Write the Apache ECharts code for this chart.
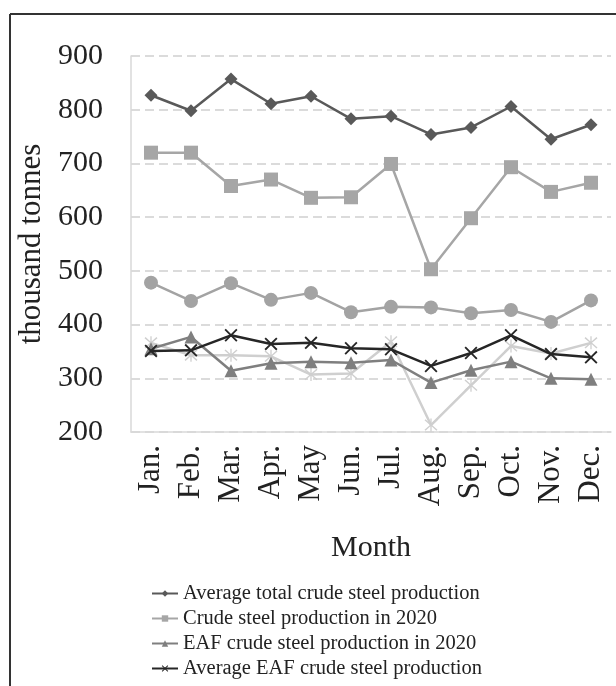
<!DOCTYPE html>
<html><head><meta charset="utf-8">
<script src="https://cdn.jsdelivr.net/npm/echarts@6/dist/echarts.min.js"></script>
<style>html,body{margin:0;padding:0;background:#fff}#c{width:616px;height:686px}</style>
</head><body><div id="c"></div>
<script>
const months = ['Jan.','Feb.','Mar.','Apr.','May','Jun.','Jul.','Aug.','Sep.','Oct.','Nov.','Dec.'];
const avgTotal = [827, 798, 857, 811, 825, 783, 788, 754, 767, 806, 745, 772];
const crude2020 = [720, 720, 658, 670, 636, 637, 699, 503, 598, 693, 647, 664];
const circleSeries = [478, 444, 477, 446, 459, 423, 433, 432, 421, 427, 405, 445];
const eaf2020 = [355, 377, 314, 328, 331, 329, 334, 292, 315, 331, 300, 298];
const avgEaf = [351, 352, 380, 364, 366, 356, 354, 323, 347, 380, 345, 339];
const starSeries = [366, 343, 343, 341, 307, 309, 368, 213, 287, 360, 346, 366];
const yTicks = {min: 200, max: 900, interval: 100};

const FONT = 'Liberation Serif';
const X_PATH = 'path://M0,1L1,0L5,4L9,0L10,1L6,5L10,9L9,10L5,6L1,10L0,9L4,5Z';
const STAR_PATH = 'path://M0,1.4L0.8,0.6L5,4.4L9.2,0.6L10,1.4L5.8,5L10,8.6L9.2,9.4L5,5.6L0.8,9.4L0,8.6L4.2,5ZM4.5,0L5.5,0L5.5,10L4.5,10Z';

function mk(name, data, color, symbol, size, z) {
  return {
    name, type: 'line', data, symbol, symbolSize: size, z: z,
    lineStyle: {color, width: 2.5}, itemStyle: {color},
    emphasis: {disabled: true}, animation: false
  };
}

const chart = echarts.init(document.getElementById('c'), null, {renderer: 'canvas'});
chart.setOption({
  animation: false,
  grid: {left: 131, right: 5, top: 56, bottom: 254},
  graphic: [
    {type: 'line', shape: {x1: 10, y1: 14, x2: 616, y2: 14}, style: {stroke: '#333', lineWidth: 2}},
    {type: 'line', shape: {x1: 10, y1: 14, x2: 10, y2: 686}, style: {stroke: '#333', lineWidth: 2}}
  ],
  legend: {
    data: ['Average total crude steel production', 'Crude steel production in 2020',
           'EAF crude steel production in 2020', 'Average EAF crude steel production'],
    orient: 'vertical', left: 151, top: 583, padding: 0, height: 110, itemGap: 4, itemWidth: 26, itemHeight: 8,
    textStyle: {fontFamily: FONT, fontSize: 20.5, color: '#222', lineHeight: 20},
    selectedMode: false
  },
  xAxis: {
    type: 'category', data: months, boundaryGap: true,
    axisLine: {lineStyle: {color: '#d9d9d9', width: 1.5}},
    axisTick: {show: false},
    axisLabel: {rotate: 90, interval: 0, hideOverlap: false, margin: 13, fontFamily: FONT, fontSize: 31, color: '#222'},
    name: 'Month', nameLocation: 'middle', nameGap: 101,
    nameTextStyle: {fontFamily: FONT, fontSize: 30, color: '#222'}
  },
  yAxis: {
    type: 'value', min: yTicks.min, max: yTicks.max, interval: yTicks.interval,
    axisLine: {show: true, lineStyle: {color: '#d9d9d9', width: 1.5}},
    axisTick: {show: false},
    splitLine: {lineStyle: {color: '#d0d0d0', width: 1.5, type: [9, 5]}},
    axisLabel: {margin: 28, fontFamily: FONT, fontSize: 30, color: '#222'},
    name: 'thousand tonnes', nameLocation: 'middle', nameGap: 79,
    nameTextStyle: {fontFamily: FONT, fontSize: 31, color: '#222'}
  },
  series: [
    mk('Average total crude steel production', avgTotal, '#595959', 'diamond', 13, 6),
    mk('Crude steel production in 2020', crude2020, '#a6a6a6', 'rect', 14, 5),
    mk('Circle series', circleSeries, '#a3a3a3', 'circle', 14, 4),
    mk('EAF crude steel production in 2020', eaf2020, '#7f7f7f', 'triangle', 13, 3),
    mk('Average EAF crude steel production', avgEaf, '#262626', X_PATH, 13, 7),
    mk('Asterisk series', starSeries, '#cfcfcf', STAR_PATH, 13, 2)
  ]
});
</script></body></html>
